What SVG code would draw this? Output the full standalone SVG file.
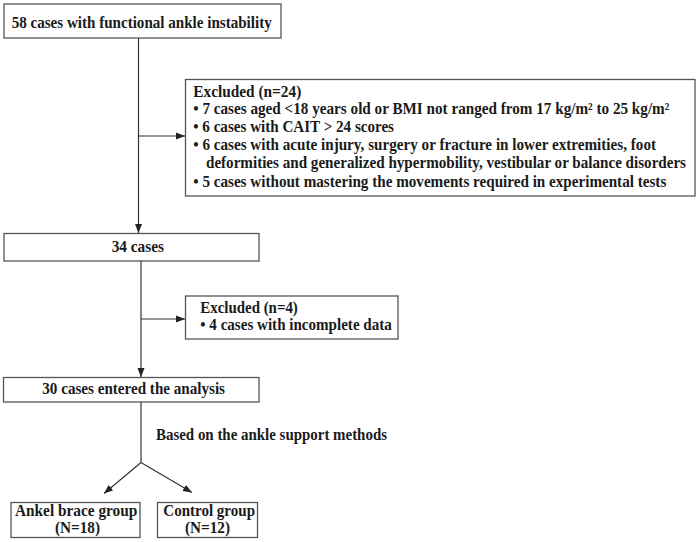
<svg xmlns="http://www.w3.org/2000/svg" width="699" height="542" viewBox="0 0 699 542">
<defs>
<style>
.box{fill:#fff;stroke:#555;stroke-width:1.3}
.t{font-family:"Liberation Serif","Times New Roman",serif;font-weight:bold;font-size:16px;fill:#1a1a1a}
.ln{fill:none;stroke:#333;stroke-width:1.2}
</style>
<marker id="ah" markerWidth="10" markerHeight="8" refX="9" refY="4" orient="auto" markerUnits="userSpaceOnUse">
<path d="M0,0.5 L9,4 L0,7.5 Z" fill="#222"/>
</marker>
</defs>
<rect width="699" height="542" fill="#fff"/>
<g id="connectors">
<line class="ln" x1="138.5" y1="38" x2="138.5" y2="233" marker-end="url(#ah)"/>
<line class="ln" x1="138.5" y1="136" x2="185" y2="136" marker-end="url(#ah)"/>
<line class="ln" x1="141" y1="261" x2="141" y2="377" marker-end="url(#ah)"/>
<line class="ln" x1="141" y1="319" x2="185" y2="319" marker-end="url(#ah)"/>
<line class="ln" x1="141" y1="402" x2="141" y2="462.5"/>
<line class="ln" x1="141" y1="462.5" x2="104" y2="493.5" marker-end="url(#ah)"/>
<line class="ln" x1="141" y1="462.5" x2="192" y2="492.5" marker-end="url(#ah)"/>
</g>
<g id="n_start">
<rect class="box" x="4" y="4" width="277" height="34"/>
<text class="t" x="11.7" y="27.5" textLength="260" lengthAdjust="spacingAndGlyphs">58 cases with functional ankle instability</text>
</g>
<g id="n_excl24">
<rect class="box" x="185.5" y="79.5" width="509.5" height="116.5"/>
<text class="t" x="193.3" y="96.7" textLength="108" lengthAdjust="spacingAndGlyphs">Excluded (n=24)</text>
<text class="t" x="193.3" y="114.3" textLength="476" lengthAdjust="spacingAndGlyphs">• 7 cases aged &lt;18 years old or BMI not ranged from 17 kg/m² to 25 kg/m²</text>
<text class="t" x="193.3" y="132" textLength="200.7" lengthAdjust="spacingAndGlyphs">• 6 cases with CAIT &gt; 24 scores</text>
<text class="t" x="193.3" y="150" textLength="462.7" lengthAdjust="spacingAndGlyphs">• 6 cases with acute injury, surgery or fracture in lower extremities, foot</text>
<text class="t" x="206" y="168.3" textLength="480" lengthAdjust="spacingAndGlyphs">deformities and generalized hypermobility, vestibular or balance disorders</text>
<text class="t" x="193.3" y="186.7" textLength="473" lengthAdjust="spacingAndGlyphs">• 5 cases without mastering the movements required in experimental tests</text>
</g>
<g id="n_34">
<rect class="box" x="4" y="233.5" width="255" height="27.5"/>
<text class="t" x="111.7" y="252" textLength="52.3" lengthAdjust="spacingAndGlyphs">34 cases</text>
</g>
<g id="n_excl4">
<rect class="box" x="185.5" y="296" width="212.5" height="43"/>
<text class="t" x="200.3" y="313.3" textLength="97.5" lengthAdjust="spacingAndGlyphs">Excluded (n=4)</text>
<text class="t" x="200.3" y="330" textLength="191.5" lengthAdjust="spacingAndGlyphs">• 4 cases with incomplete data</text>
</g>
<g id="n_30">
<rect class="box" x="3.5" y="377.5" width="255.5" height="24.5"/>
<text class="t" x="42.3" y="393.5" textLength="182.7" lengthAdjust="spacingAndGlyphs">30 cases entered the analysis</text>
</g>
<text class="t" x="156" y="440" textLength="231" lengthAdjust="spacingAndGlyphs">Based on the ankle support methods</text>
<g id="n_brace">
<rect class="box" x="11" y="502.5" width="129" height="35"/>
<text class="t" x="15" y="515.5" textLength="122.3" lengthAdjust="spacingAndGlyphs">Ankel brace  group</text>
<text class="t" x="55" y="532.5" textLength="45" lengthAdjust="spacingAndGlyphs">(N=18)</text>
</g>
<g id="n_control">
<rect class="box" x="157.5" y="502.5" width="100" height="35"/>
<text class="t" x="163.3" y="515.5" textLength="91.7" lengthAdjust="spacingAndGlyphs">Control group</text>
<text class="t" x="185" y="532.5" textLength="45" lengthAdjust="spacingAndGlyphs">(N=12)</text>
</g>
</svg>
